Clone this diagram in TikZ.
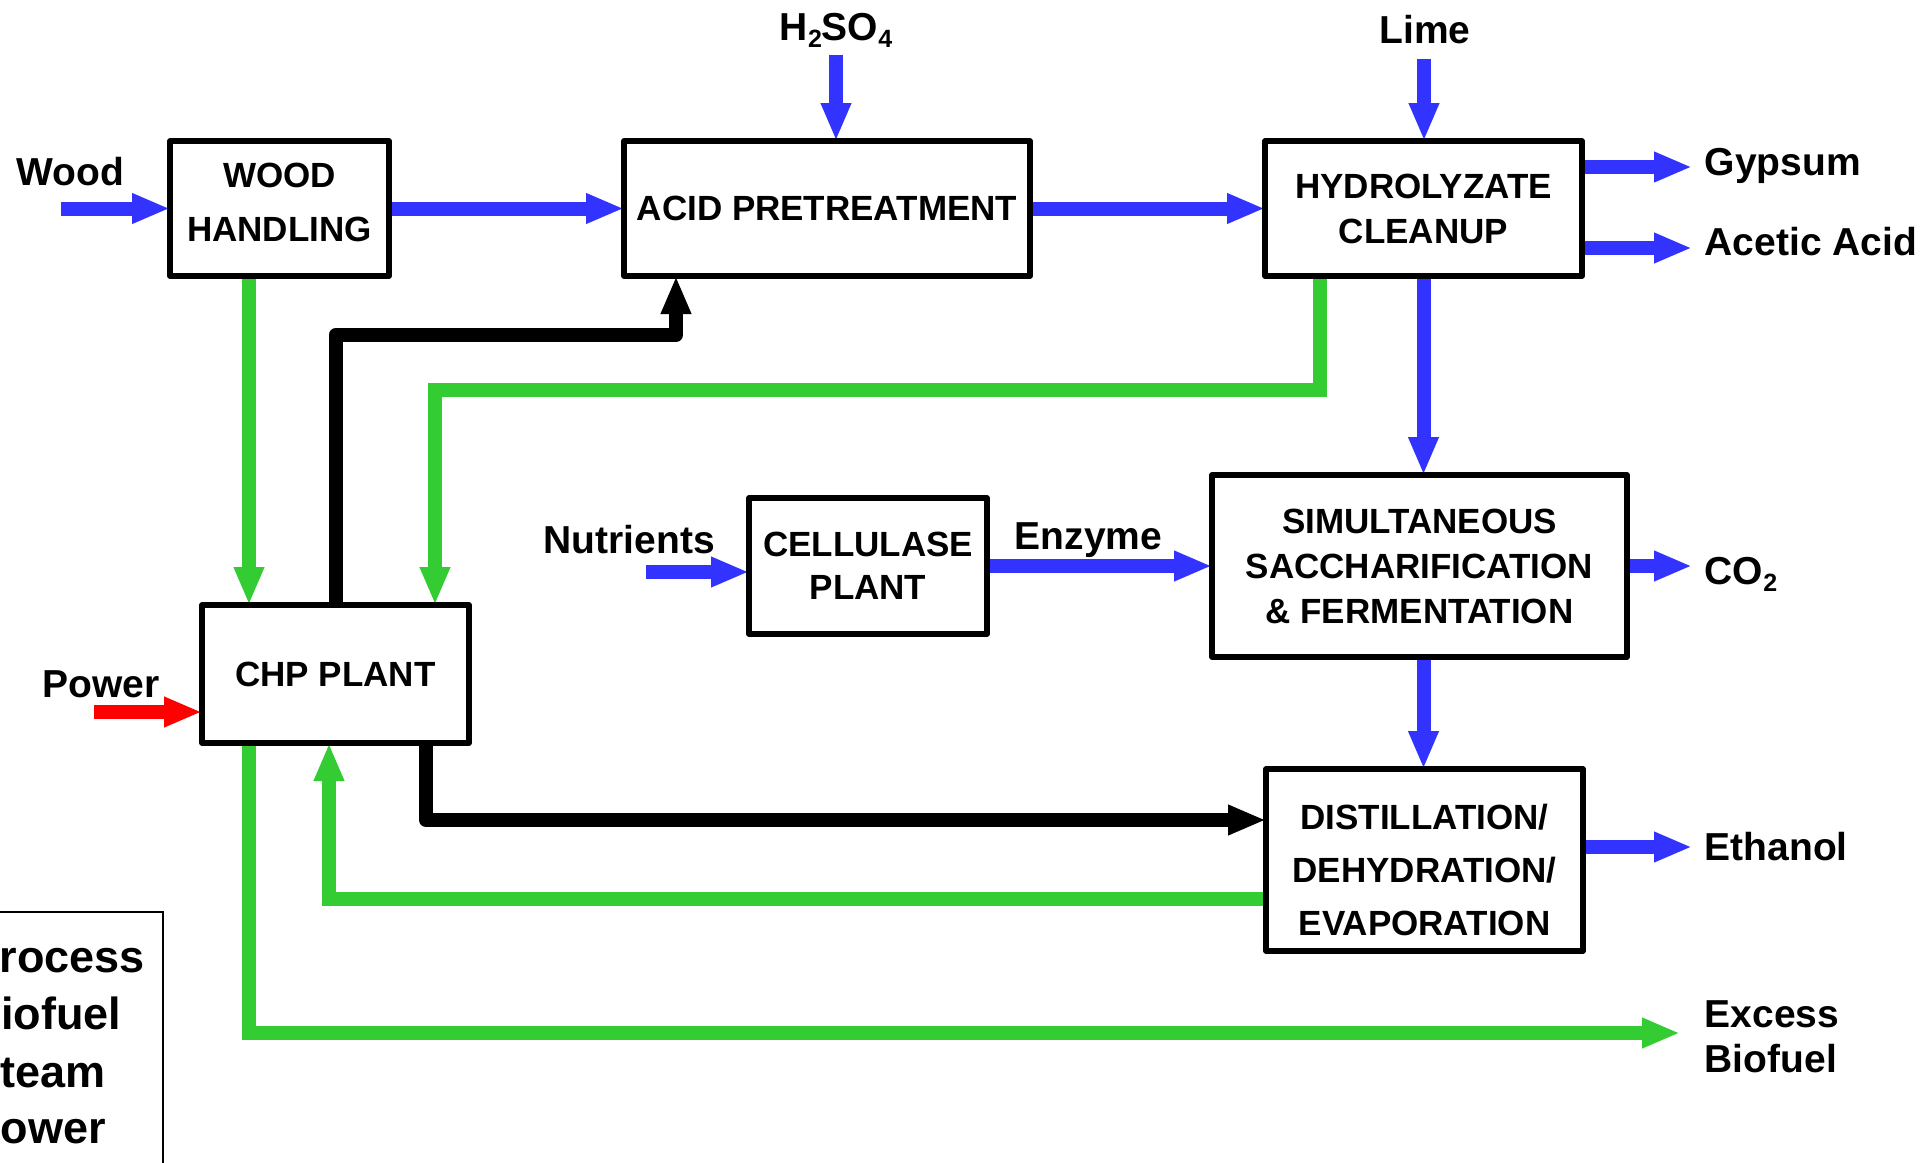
\documentclass[tikz,border=0pt]{standalone}
\usepackage{fontspec}
\setmainfont{Liberation Sans}
\usetikzlibrary{arrows.meta,backgrounds}

\definecolor{flowblue}{RGB}{51,51,255}
\definecolor{fuelgreen}{RGB}{51,204,51}
\definecolor{powred}{RGB}{255,0,0}

\newcommand{\lowidx}[1]{\raisebox{-0.18em}{\fontsize{12.5}{12.5}\selectfont #1}}

\tikzset{every picture/.style={line width=0.75pt}}
\tikzset{
  plant/.style={draw, line width=2.8pt, line join=round, fill=white, inner sep=0pt, outer sep=0pt, align=center, font=\fontsize{17.5}{22.5}\selectfont\bfseries},
  flow/.style={line width=7pt, -{Triangle[length=19pt,width=14pt]}},
  process/.style={flow, draw=flowblue},
  biofuel/.style={flow, draw=fuelgreen},
  steam/.style={flow, draw=black, line join=round},
  power/.style={flow, draw=powred},
  lbl/.style={inner sep=0pt, font=\fontsize{19.5}{23}\selectfont\bfseries},
  keytxt/.style={inner sep=0pt, anchor=base west, font=\fontsize{22.5}{27}\selectfont\bfseries},
}

\begin{document}
\begin{tikzpicture}[x=0.5pt,y=0.5pt,yscale=-1,xscale=1]
\useasboundingbox (0,0) rectangle (1922,1162);
\clip (0,0) rectangle (1922,1162);

%Shape: Rectangle (process units)
\node[plant, minimum width=109.5pt, minimum height=67.5pt, text depth=6pt, font=\fontsize{17.5}{27}\selectfont\bfseries] (wh) at (279.5,208.5) {WOOD\\HANDLING};
\node[plant, minimum width=203pt, minimum height=67.5pt] (ap) at (827,208.5) {ACID PRETREATMENT};
\node[plant, minimum width=158.5pt, minimum height=67.5pt] (hc) at (1423.5,208.5) {HYDROLYZATE\\CLEANUP};
\node[plant, minimum width=133.5pt, minimum height=69pt] (chp) at (335.5,674) {CHP PLANT};
\node[plant, minimum width=119pt, minimum height=68pt, font=\fontsize{17.5}{21.5}\selectfont\bfseries] (cp) at (868,566) {CELLULASE\\PLANT};
\node[plant, minimum width=207.5pt, minimum height=91pt] (ssf) at (1419.5,566) {SIMULTANEOUS\\SACCHARIFICATION\\\& FERMENTATION};
\node[plant, minimum width=158.5pt, minimum height=91pt, text height=75pt, text depth=0pt, font=\fontsize{17.5}{26.5}\selectfont\bfseries] (dist) at (1424.5,860) {DISTILLATION/\\DEHYDRATION/\\EVAPORATION};

% Text Node
\node[lbl, anchor=base west] (woodlbl) at (16,185) {Wood};
\node[lbl, anchor=base] (acidlbl) at (836,40) {H\lowidx{2}SO\lowidx{4}};
\node[lbl, anchor=base] (limelbl) at (1425,43) {Lime};
\node[lbl, anchor=base west] (gyplbl) at (1704,175) {Gypsum};
\node[lbl, anchor=base west] (acelbl) at (1704,255) {Acetic Acid};
\node[lbl, anchor=base west] (nutlbl) at (543,553) {Nutrients};
\node[lbl, anchor=base west] (enzlbl) at (1014,549) {Enzyme};
\node[lbl, anchor=base west] (co2lbl) at (1704,584) {CO\lowidx{2}};
\node[lbl, anchor=base west] (powlbl) at (42,697) {Power};
\node[lbl, anchor=base west] (ethlbl) at (1704,860) {Ethanol};
\node[lbl, anchor=base west] (xslbl) at (1704,1027) {Excess};
\node[lbl, anchor=base west] (biolbl) at (1704,1072) {Biofuel};

% Legend (cut off at the left)
\draw[line width=1.4pt] (-40,912) rectangle (163,1200);
\node[keytxt] (keyproc) at (-31,972) {Process};
\node[keytxt] (keyfuel) at (-32,1029) {Biofuel};
\node[keytxt] (keysteam) at (-30,1087) {Steam};
\node[keytxt] (keypow) at (-30,1143) {Power};

\coordinate (woodin) at (61,208.5);
\coordinate (acidin) at (836,55);
\coordinate (limein) at (1424,59);
\coordinate (gypout) at (1692,167);
\coordinate (aceout) at (1692,248);
\coordinate (nutin) at (646,572);
\coordinate (co2out) at (1692,566);
\coordinate (ethout) at (1692,847);
\coordinate (powin) at (94,712);
\coordinate (fuelret) at (435,390);
\coordinate (fuelback) at (329,899);
\coordinate (xsfuel) at (1680,1033);
\coordinate (stmup) at (676,335);
\coordinate (stmdn) at (426,820);

\begin{scope}[on background layer]
%Straight Lines (process)
\draw[process] (woodin) -- (wh.west);
\draw[process] (acidin) -- (acidin |- ap.north);
\draw[process] (limein) -- (limein |- hc.north);
\draw[process] (wh.east) -- (ap.west);
\draw[process] (ap.east) -- (hc.west);
\draw[process] (gypout -| hc.east) -- (gypout);
\draw[process] (aceout -| hc.east) -- (aceout);
\draw[process] (hc.south) -- (hc.south |- ssf.north);
\draw[process] (nutin) -- (nutin -| cp.west);
\draw[process] (cp.east) -- (cp.east -| ssf.west);
\draw[process] (co2out -| ssf.east) -- (co2out);
\draw[process] (hc.south |- ssf.south) -- (hc.south |- dist.north);
\draw[process] (ethout -| dist.east) -- (ethout);
%Straight Lines (power)
\draw[power] (powin) -- (powin -| chp.west);
%Straight Lines (biofuel)
\draw[biofuel] ([xshift=-15.25pt]wh.south) -- ([xshift=-15.25pt]wh.south |- chp.north);
\draw[biofuel] ([xshift=-51.75pt]hc.south) |- (fuelret) -- (fuelret |- chp.north);
\draw[biofuel] (fuelback -| dist.west) -- (fuelback) -- (fuelback |- chp.south);
\draw[biofuel] ([xshift=-43.25pt]chp.south) |- (xsfuel);
%Straight Lines (steam)
\draw[steam] (chp.north) |- (stmup) -- (stmup |- ap.south);
\draw[steam] ([xshift=45.25pt]chp.south) -- (stmdn) -- (stmdn -| dist.west);
\end{scope}

\end{tikzpicture}
\end{document}
